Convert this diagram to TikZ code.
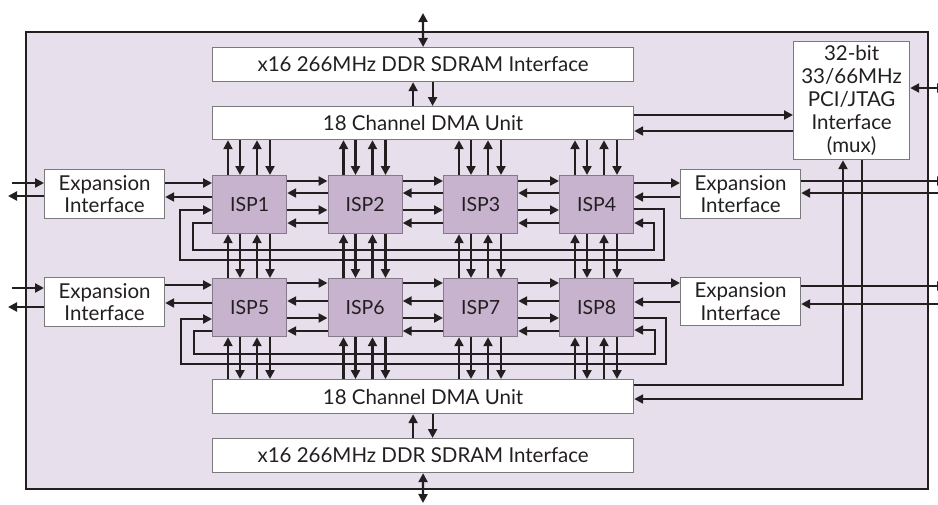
\documentclass[tikz,border=0pt]{standalone}
\usepackage{fontspec}
\setmainfont{Lato}
\usetikzlibrary{arrows.meta,calc}
\definecolor{ink}{HTML}{231F20}
\definecolor{chip}{HTML}{E7E0EC}
\definecolor{core}{HTML}{C7B3CE}
\definecolor{coreline}{HTML}{857A8A}
\definecolor{boxline}{HTML}{7A7A7A}
\begin{document}
\begin{tikzpicture}[x=1pt,y=-1pt,
  >={Triangle[length=9pt,width=9pt]},
  blk/.style={draw=boxline,line width=1.2pt,fill=white,inner sep=0pt,
    anchor=north west,align=center,text=ink,
    font=\fontsize{20.5}{22.5}\selectfont},
  isp/.style={blk,fill=core,draw=coreline,minimum width=74pt,minimum height=58pt,
    font=\fontsize{19.5}{22}\selectfont},
  wide/.style={blk,minimum width=421pt,minimum height=34pt},
  expn/.style={blk,minimum width=120pt,minimum height=49pt},
  wire/.style={draw=ink,line width=2.2pt,->},
  bus/.style={draw=ink,line width=2.2pt,<->},
  line/.style={draw=ink,line width=2.2pt}]
\useasboundingbox (0,0) rectangle (938,504);

% chip outline
\draw[fill=chip,draw=ink,line width=2.5pt] (26,32) rectangle (928,489);

% memory and DMA blocks
\node[wide] (sdT) at (212,47) {x16 266MHz DDR SDRAM Interface};
\node[wide,minimum height=33pt] (dmaT) at (212,106) {18 Channel DMA Unit};
\node[wide] (dmaB) at (212,379) {18 Channel DMA Unit};
\node[wide] (sdB) at (212,438) {x16 266MHz DDR SDRAM Interface};

% host interface
\node[blk,minimum width=116pt,minimum height=118pt,
  font=\fontsize{20.5}{23}\selectfont] (pci) at (793,41)
  {32-bit\\33/66MHz\\PCI/JTAG\\Interface\\(mux)};

% expansion ports
\node[expn] (expL1) at (44,169) {Expansion\\Interface};
\node[expn] (expL2) at (44,277) {Expansion\\Interface};
\node[expn] (expR1) at (680,169) {Expansion\\Interface};
\node[expn,minimum height=48pt] (expR2) at (680,277) {Expansion\\Interface};

% processor array
\foreach \i/\x in {1/212,2/327.5,3/443,4/559}{
  \node[isp] (isp\i) at (\x,175) {ISP\i};
}
\foreach \i/\x in {5/212,6/327.5,7/443,8/559}{
  \node[isp] (isp\i) at (\x,278) {ISP\i};
}

% external memory buses
\coordinate (extT) at (423,13);
\coordinate (extB) at (423,503);
\draw[bus] (extT) -- (sdT.north);
\draw[bus] (extB) -- (sdB.south);

% SDRAM <-> DMA
\coordinate (mu) at ($(sdT.south)+(-10,0)$);
\coordinate (md) at ($(sdT.south)+(9.5,0)$);
\draw[wire] (mu |- dmaT.north) -- (mu);
\draw[wire] (md) -- (md |- dmaT.north);
\coordinate (nu) at ($(sdB.north)+(-10,0)$);
\coordinate (nd) at ($(sdB.north)+(9.5,0)$);
\draw[wire] (nu) -- (nu |- dmaB.south);
\draw[wire] (nd |- dmaB.south) -- (nd);

% vertical channels: DMA <-> row 1 <-> row 2 <-> DMA
\foreach \i in {1,...,4}{
  \pgfmathtruncatemacro{\j}{\i+4}
  \coordinate (u\i a) at ($(isp\i.north west)+(16,0)$);
  \coordinate (u\i b) at ($(isp\i.north west)+(28,0)$);
  \coordinate (u\i c) at ($(isp\i.north west)+(45,0)$);
  \coordinate (u\i d) at ($(isp\i.north west)+(58,0)$);
  % to/from upper DMA
  \draw[wire] (u\i a) -- (u\i a |- dmaT.south);
  \draw[wire] (u\i b |- dmaT.south) -- (u\i b);
  \draw[wire] (u\i c) -- (u\i c |- dmaT.south);
  \draw[wire] (u\i d |- dmaT.south) -- (u\i d);
  % between the two rows
  \draw[wire] (u\i a |- isp\j.north) -- (u\i a |- isp\i.south);
  \draw[wire] (u\i b |- isp\i.south) -- (u\i b |- isp\j.north);
  \draw[wire] (u\i c |- isp\j.north) -- (u\i c |- isp\i.south);
  \draw[wire] (u\i d |- isp\i.south) -- (u\i d |- isp\j.north);
  % to/from lower DMA
  \draw[wire] (u\i a |- dmaB.north) -- (u\i a |- isp\j.south);
  \draw[wire] (u\i b |- isp\j.south) -- (u\i b |- dmaB.north);
  \draw[wire] (u\i c |- dmaB.north) -- (u\i c |- isp\j.south);
  \draw[wire] (u\i d |- isp\j.south) -- (u\i d |- dmaB.north);
}

% horizontal links inside each row
\foreach \i in {1,2,3}{
  \pgfmathtruncatemacro{\k}{\i+1}
  \draw[wire] ($(isp\i.north east)+(0,6)$) -- ($(isp\k.north west)+(0,6)$);
  \draw[wire] ($(isp\k.north west)+(0,18)$) -- ($(isp\i.north east)+(0,18)$);
  \draw[wire] ($(isp\i.north east)+(0,35)$) -- ($(isp\k.north west)+(0,35)$);
  \draw[wire] ($(isp\k.north west)+(0,48)$) -- ($(isp\i.north east)+(0,48)$);
}
\foreach \i in {5,6,7}{
  \pgfmathtruncatemacro{\k}{\i+1}
  \draw[wire] ($(isp\i.north east)+(0,5)$) -- ($(isp\k.north west)+(0,5)$);
  \draw[wire] ($(isp\k.north west)+(0,23)$) -- ($(isp\i.north east)+(0,23)$);
  \draw[wire] ($(isp\i.north east)+(0,40)$) -- ($(isp\k.north west)+(0,40)$);
  \draw[wire] ($(isp\k.north west)+(0,53)$) -- ($(isp\i.north east)+(0,53)$);
}

% wrap-around rings, row 1
\coordinate (ra1) at ($(isp1.north west)+(0,48)$);
\coordinate (ra4) at ($(isp4.north east)+(0,48)$);
\coordinate (rb4) at ($(isp4.north east)+(0,34)$);
\coordinate (rb1) at ($(isp1.north west)+(0,35)$);
\coordinate (laneA1) at (193,250);
\coordinate (laneA2) at (654,250);
\coordinate (laneB1) at (664,260);
\coordinate (laneB2) at (180,260);
\draw[wire] (ra1) -| (laneA1) -- (laneA2) |- (ra4);
\draw[wire] (rb4) -| (laneB1) -- (laneB2) |- (rb1);

% wrap-around rings, row 2
\coordinate (ra5) at ($(isp5.north west)+(0,53)$);
\coordinate (ra8) at ($(isp8.north east)+(0,52)$);
\coordinate (rb8) at ($(isp8.north east)+(0,40)$);
\coordinate (rb5) at ($(isp5.north west)+(0,41)$);
\coordinate (laneC1) at (194,354);
\coordinate (laneC2) at (655,354);
\coordinate (laneD1) at (666,364);
\coordinate (laneD2) at (181,364);
\draw[wire] (ra5) -| (laneC1) -- (laneC2) |- (ra8);
\draw[wire] (rb8) -| (laneD1) -- (laneD2) |- (rb5);

% expansion ports <-> processors
\draw[wire] ($(expL1.north east)+(0,14)$) -- ($(isp1.north west)+(0,8)$);
\draw[wire] ($(isp1.north west)+(0,22)$) -- ($(expL1.north east)+(0,28)$);
\draw[wire] ($(expL2.north east)+(0,8)$) -- ($(isp5.north west)+(0,7)$);
\draw[wire] ($(isp5.north west)+(0,25)$) -- ($(expL2.north east)+(0,26)$);
\draw[wire] ($(isp4.north east)+(0,8)$) -- ($(expR1.north west)+(0,14)$);
\draw[wire] ($(expR1.north west)+(0,28)$) -- ($(isp4.north east)+(0,22)$);
\draw[wire] ($(isp8.north east)+(0,5)$) -- ($(expR2.north west)+(0,6)$);
\draw[wire] ($(expR2.north west)+(0,25)$) -- ($(isp8.north east)+(0,24)$);

% expansion ports <-> off-chip
\coordinate (l1i) at (12,183);
\coordinate (l1o) at (8,196);
\coordinate (l2i) at (12,288);
\coordinate (l2o) at (8,307);
\draw[wire] (l1i) -- ($(expL1.north west)+(0,14)$);
\draw[wire] ($(expL1.north west)+(0,27)$) -- (l1o);
\draw[wire] (l2i) -- ($(expL2.north west)+(0,11)$);
\draw[wire] ($(expL2.north west)+(0,30)$) -- (l2o);
\coordinate (r1o) at (946,181);
\coordinate (r1i) at (946,193);
\coordinate (r2o) at (946,286);
\coordinate (r2i) at (946,304);
\draw[wire] ($(expR1.north east)+(0,12)$) -- (r1o);
\draw[wire] (r1i) -- ($(expR1.north east)+(0,24)$);
\draw[wire] ($(expR2.north east)+(0,9)$) -- (r2o);
\draw[wire] (r2i) -- ($(expR2.north east)+(0,27)$);

% host bus
\coordinate (host) at (946,88);
\draw[bus] ($(pci.north east)+(0,47)$) -- (host);

% DMA <-> host interface
\draw[wire] ($(dmaT.north east)+(0,9)$) -- ($(pci.north west)+(0,74)$);
\draw[wire] ($(pci.north west)+(0,90)$) -- ($(dmaT.north east)+(0,25)$);
\coordinate (hu) at ($(pci.south west)+(50,0)$);
\coordinate (hd) at ($(pci.south west)+(69,0)$);
\draw[wire] ($(dmaB.north east)+(0,6)$) -| (hu);
\draw[wire] (hd) |- ($(dmaB.north east)+(0,20)$);
\end{tikzpicture}
\end{document}
